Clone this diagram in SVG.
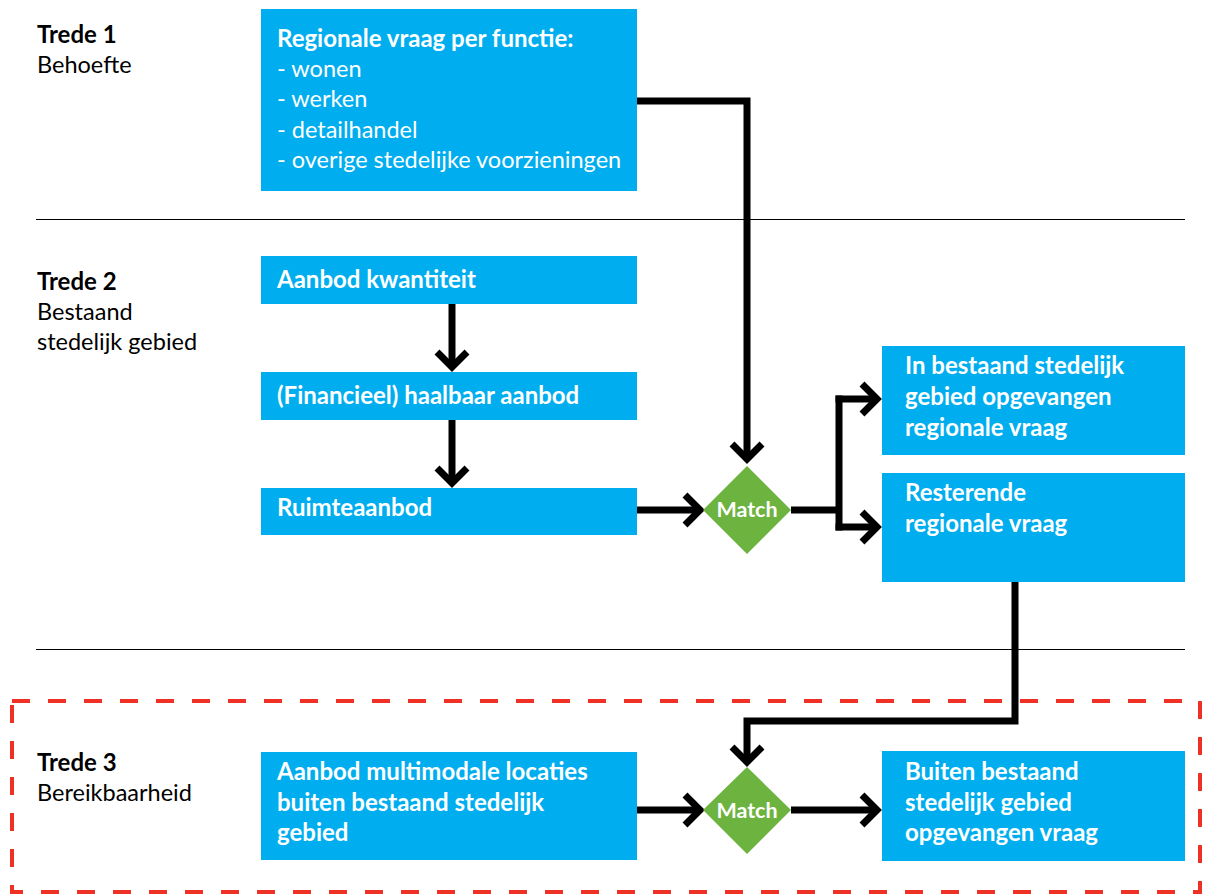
<svg xmlns="http://www.w3.org/2000/svg" width="1209" height="894" viewBox="0 0 1209 894">
  <style>
    .box { fill: #00AEEF; }
    .diamond { fill: #6DB33F; }
    .t { font-family: Lato, "Liberation Sans", sans-serif; font-size: 23.5px; }
    .b { font-weight: bold; font-size: 24px; }
    .w { fill: #ffffff; }
    .k { fill: #000000; }
    .match { font-family: Lato, "Liberation Sans", sans-serif; font-size: 21.5px; font-weight: bold; fill: #ffffff; text-anchor: middle; }
    .sep { stroke: #000000; stroke-width: 1; }
    .con { fill: none; stroke: #000000; stroke-width: 7; }
    .arr { fill: none; stroke: #000000; stroke-width: 7; marker-end: url(#chev); }
    .zone { fill: none; stroke: #EE3124; stroke-width: 4; stroke-dasharray: 18 18; }
  </style>
  <defs>
    <marker id="chev" markerUnits="userSpaceOnUse" viewBox="-25 -25 50 50" markerWidth="50" markerHeight="50" refX="0" refY="0" orient="auto" overflow="visible">
      <path d="M-15,-15 L0,0 L-15,15" fill="none" stroke="#000000" stroke-width="7"/>
    </marker>
  </defs>

  <rect width="1209" height="894" fill="#ffffff"/>

  <!-- separators between the steps -->
  <line class="sep" x1="36" y1="219.5" x2="1185" y2="219.5"/>
  <line class="sep" x1="36" y1="649.5" x2="1185" y2="649.5"/>

  <!-- step 3 zone -->
  <rect class="zone" x="12" y="701" width="1188" height="191"/>

  <!-- step labels -->
  <g id="trede1">
    <text class="t b k" x="37" y="43">Trede 1</text>
    <text class="t k" x="37" y="73">Behoefte</text>
  </g>
  <g id="trede2">
    <text class="t b k" x="37" y="290">Trede 2</text>
    <text class="t k" x="37" y="320">Bestaand</text>
    <text class="t k" x="37" y="350">stedelijk gebied</text>
  </g>
  <g id="trede3">
    <text class="t b k" x="37" y="771">Trede 3</text>
    <text class="t k" x="37" y="801">Bereikbaarheid</text>
  </g>

  <!-- connectors -->
  <g id="connectors">
    <path class="arr" d="M637,101 H747 V459"/>
    <path class="arr" d="M452,304 V367"/>
    <path class="arr" d="M452,420 V483"/>
    <path class="arr" d="M637,510 H700"/>
    <path class="con" d="M791,510 H839"/>
    <path class="con" d="M839,395.5 V530.5"/>
    <path class="arr" d="M835.5,399 H877"/>
    <path class="arr" d="M835.5,527 H877"/>
    <path class="arr" d="M1015,582 V721 H747 V762"/>
    <path class="arr" d="M637,810 H700"/>
    <path class="arr" d="M791,810 H877"/>
  </g>

  <!-- nodes -->
  <g id="vraag">
    <rect class="box" x="261" y="9" width="376" height="182"/>
    <text class="t b w" x="277" y="47">Regionale vraag per functie:</text>
    <text class="t w" x="277" y="77">- wonen</text>
    <text class="t w" x="277" y="107">- werken</text>
    <text class="t w" x="277" y="138">- detailhandel</text>
    <text class="t w" x="277" y="168">- overige stedelijke voorzieningen</text>
  </g>
  <g id="kwantiteit">
    <rect class="box" x="261" y="256" width="376" height="48"/>
    <text class="t b w" x="277" y="288">Aanbod kwantiteit</text>
  </g>
  <g id="haalbaar">
    <rect class="box" x="261" y="372" width="376" height="48"/>
    <text class="t b w" x="277" y="404">(Financieel) haalbaar aanbod</text>
  </g>
  <g id="ruimteaanbod">
    <rect class="box" x="261" y="488" width="376" height="47"/>
    <text class="t b w" x="277" y="516">Ruimteaanbod</text>
  </g>
  <g id="match1">
    <polygon class="diamond" points="747,466 791,510 747,554 703,510"/>
    <text class="match" x="747" y="517">Match</text>
  </g>
  <g id="opgevangen">
    <rect class="box" x="882" y="346" width="303" height="109"/>
    <text class="t b w" x="905" y="374">In bestaand stedelijk</text>
    <text class="t b w" x="905" y="405">gebied opgevangen</text>
    <text class="t b w" x="905" y="436">regionale vraag</text>
  </g>
  <g id="resterend">
    <rect class="box" x="882" y="473" width="303" height="109"/>
    <text class="t b w" x="905" y="501">Resterende</text>
    <text class="t b w" x="905" y="532">regionale vraag</text>
  </g>
  <g id="multimodaal">
    <rect class="box" x="261" y="752" width="376" height="108"/>
    <text class="t b w" x="277" y="780">Aanbod multimodale locaties</text>
    <text class="t b w" x="277" y="811">buiten bestaand stedelijk</text>
    <text class="t b w" x="277" y="841">gebied</text>
  </g>
  <g id="match2">
    <polygon class="diamond" points="747,767 791,810 747,854 703,810"/>
    <text class="match" x="747" y="818">Match</text>
  </g>
  <g id="buiten">
    <rect class="box" x="882" y="751" width="303" height="110"/>
    <text class="t b w" x="905" y="780">Buiten bestaand</text>
    <text class="t b w" x="905" y="811">stedelijk gebied</text>
    <text class="t b w" x="905" y="841">opgevangen vraag</text>
  </g>
</svg>
